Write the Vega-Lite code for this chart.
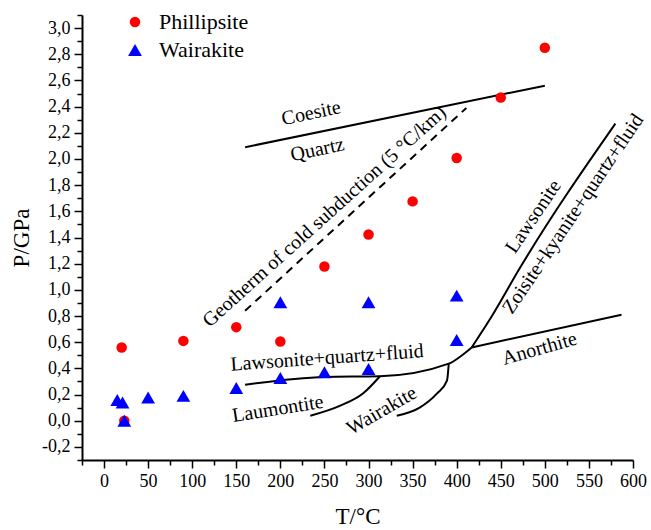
{
  "$schema": "https://vega.github.io/schema/vega-lite/v6.json",
  "width": 551,
  "height": 445,
  "autosize": {"type": "none"},
  "padding": {"left": 82, "top": 15, "right": 18, "bottom": 70},
  "background": "white",
  "config": {
    "font": "Times New Roman, Liberation Serif, serif",
    "view": {"stroke": null},
    "text": {"font": "Times New Roman, Liberation Serif, serif"},
    "legend": {"labelFont": "Times New Roman, Liberation Serif, serif"},
    "axis": {"grid": false, "domainColor": "black", "domainWidth": 2, "tickColor": "black", "tickWidth": 1.5, "labelColor": "black", "titleColor": "black", "labelFont": "Times New Roman, Liberation Serif, serif", "titleFont": "Times New Roman, Liberation Serif, serif", "labelFontSize": 18, "titleFontSize": 23, "titleFontWeight": "normal"}
  },
  "datasets": {
    "points": [
      {"T": 20, "P": 0.56, "mineral": "Phillipsite"},
      {"T": 23, "P": 0.0, "mineral": "Phillipsite"},
      {"T": 90, "P": 0.61, "mineral": "Phillipsite"},
      {"T": 150, "P": 0.715, "mineral": "Phillipsite"},
      {"T": 200, "P": 0.605, "mineral": "Phillipsite"},
      {"T": 250, "P": 1.178, "mineral": "Phillipsite"},
      {"T": 300, "P": 1.423, "mineral": "Phillipsite"},
      {"T": 350, "P": 1.676, "mineral": "Phillipsite"},
      {"T": 400, "P": 2.007, "mineral": "Phillipsite"},
      {"T": 450, "P": 2.47, "mineral": "Phillipsite"},
      {"T": 500, "P": 2.85, "mineral": "Phillipsite"},
      {"T": 15, "P": 0.158, "mineral": "Wairakite"},
      {"T": 21, "P": 0.14, "mineral": "Wairakite"},
      {"T": 23, "P": 0.0, "mineral": "Wairakite"},
      {"T": 50, "P": 0.178, "mineral": "Wairakite"},
      {"T": 90, "P": 0.19, "mineral": "Wairakite"},
      {"T": 150, "P": 0.25, "mineral": "Wairakite"},
      {"T": 200, "P": 0.327, "mineral": "Wairakite"},
      {"T": 200, "P": 0.905, "mineral": "Wairakite"},
      {"T": 250, "P": 0.37, "mineral": "Wairakite"},
      {"T": 300, "P": 0.395, "mineral": "Wairakite"},
      {"T": 300, "P": 0.905, "mineral": "Wairakite"},
      {"T": 400, "P": 0.617, "mineral": "Wairakite"},
      {"T": 400, "P": 0.956, "mineral": "Wairakite"}
    ],
    "lines": [
      {"seg": "coesite", "o": 1, "T": 160, "P": 2.09},
      {"seg": "coesite", "o": 2, "T": 500, "P": 2.56},
      {"seg": "geotherm", "o": 1, "T": 160, "P": 0.84},
      {"seg": "geotherm", "o": 2, "T": 411, "P": 2.39},
      {"seg": "lqf", "o": 1, "T": 160, "P": 0.275},
      {"seg": "lqf", "o": 2, "T": 250, "P": 0.335},
      {"seg": "lqf", "o": 3, "T": 313, "P": 0.34},
      {"seg": "lqf", "o": 4, "T": 391, "P": 0.436},
      {"seg": "lqf", "o": 5, "T": 405, "P": 0.495},
      {"seg": "lqf", "o": 6, "T": 417, "P": 0.56},
      {"seg": "anorthite", "o": 1, "T": 417, "P": 0.56},
      {"seg": "anorthite", "o": 2, "T": 587, "P": 0.81},
      {"seg": "zoisite", "o": 1, "T": 417, "P": 0.56},
      {"seg": "zoisite", "o": 2, "T": 440, "P": 0.8},
      {"seg": "zoisite", "o": 3, "T": 472, "P": 1.17},
      {"seg": "zoisite", "o": 4, "T": 580, "P": 2.27},
      {"seg": "laumontite", "o": 1, "T": 234, "P": 0.038},
      {"seg": "laumontite", "o": 2, "T": 268, "P": 0.115},
      {"seg": "laumontite", "o": 3, "T": 294, "P": 0.21},
      {"seg": "laumontite", "o": 4, "T": 313, "P": 0.34},
      {"seg": "wairakite", "o": 1, "T": 332, "P": 0.038},
      {"seg": "wairakite", "o": 2, "T": 358, "P": 0.1},
      {"seg": "wairakite", "o": 3, "T": 377.5, "P": 0.207},
      {"seg": "wairakite", "o": 4, "T": 389, "P": 0.306},
      {"seg": "wairakite", "o": 5, "T": 391, "P": 0.436}
    ],
    "labels": [
      {"label": "Coesite", "T": 235, "P": 2.35},
      {"label": "Quartz", "T": 242, "P": 2.07},
      {"label": "Geotherm of cold subduction (5 °C/km)", "T": 250, "P": 1.56},
      {"label": "Lawsonite", "T": 487, "P": 1.56},
      {"label": "Zoisite+kyanite+quartz+fluid", "T": 532, "P": 1.58},
      {"label": "Lawsonite+quartz+fluid", "T": 253, "P": 0.48},
      {"label": "Laumontite", "T": 197, "P": 0.09},
      {"label": "Wairakite", "T": 315, "P": 0.077},
      {"label": "Anorthite", "T": 494, "P": 0.55}
    ]
  },
  "encoding": {
    "x": {
      "field": "T", "type": "quantitative",
      "scale": {"domain": [-25, 600], "nice": false, "zero": false},
      "axis": {
        "title": "T/°C", "titlePadding": 15,
        "values": [-25, 0, 25, 50, 75, 100, 125, 150, 175, 200, 225, 250, 275, 300, 325, 350, 375, 400, 425, 450, 475, 500, 525, 550, 575, 600],
        "labelExpr": "datum.value >= 0 && datum.value % 50 === 0 ? datum.label : ''",
        "tickSize": {"condition": {"test": "datum.value % 50 === 0", "value": 8}, "value": 5},
        "labelPadding": 4, "labelFlush": false, "labelOverlap": false
      }
    },
    "y": {
      "field": "P", "type": "quantitative",
      "scale": {"domain": [-0.3, 3.1], "nice": false, "zero": false},
      "axis": {
        "title": "P/GPa", "titlePadding": 8,
        "values": [-0.3, -0.2, -0.1, 0, 0.1, 0.2, 0.3, 0.4, 0.5, 0.6, 0.7, 0.8, 0.9, 1.0, 1.1, 1.2, 1.3, 1.4, 1.5, 1.6, 1.7, 1.8, 1.9, 2.0, 2.1, 2.2, 2.3, 2.4, 2.5, 2.6, 2.7, 2.8, 2.9, 3.0, 3.1],
        "labelExpr": "abs(round(datum.value * 10)) % 2 === 0 ? ((datum.value < -0.01 ? '-' : '') + replace(format(abs(datum.value), '.1f'), '.', ',')) : ''",
        "tickSize": {"condition": {"test": "abs(round(datum.value * 10)) % 2 === 0", "value": 8}, "value": 5},
        "labelPadding": 4, "labelFlush": false, "labelOverlap": false
      }
    }
  },
  "layer": [
    {
      "data": {"name": "lines"},
      "transform": [{"filter": "datum.seg !== 'geotherm'"}],
      "mark": {"type": "line", "color": "black", "strokeWidth": 2, "interpolate": "monotone"},
      "encoding": {"detail": {"field": "seg"}, "order": {"field": "o", "type": "quantitative"}}
    },
    {
      "data": {"name": "lines"},
      "transform": [{"filter": "datum.seg === 'geotherm'"}],
      "mark": {"type": "line", "color": "black", "strokeWidth": 2, "strokeDash": [8, 6]},
      "encoding": {"order": {"field": "o", "type": "quantitative"}}
    },
    {
      "data": {"name": "labels"},
      "transform": [{"filter": "datum.label === 'Coesite' || datum.label === 'Quartz'"}],
      "mark": {"type": "text", "angle": -12, "fontSize": 20, "color": "black", "baseline": "middle", "align": "center"},
      "encoding": {"text": {"field": "label"}}
    },
    {
      "data": {"name": "labels"},
      "transform": [{"filter": "datum.label === 'Geotherm of cold subduction (5 °C/km)'"}],
      "mark": {"type": "text", "angle": -42, "fontSize": 20, "color": "black", "baseline": "middle", "align": "center"},
      "encoding": {"text": {"field": "label"}}
    },
    {
      "data": {"name": "labels"},
      "transform": [{"filter": "datum.label === 'Lawsonite' || datum.label === 'Zoisite+kyanite+quartz+fluid'"}],
      "mark": {"type": "text", "angle": -56, "fontSize": 20, "color": "black", "baseline": "middle", "align": "center"},
      "encoding": {"text": {"field": "label"}}
    },
    {
      "data": {"name": "labels"},
      "transform": [{"filter": "datum.label === 'Lawsonite+quartz+fluid'"}],
      "mark": {"type": "text", "angle": -4, "fontSize": 20, "color": "black", "baseline": "middle", "align": "center"},
      "encoding": {"text": {"field": "label"}}
    },
    {
      "data": {"name": "labels"},
      "transform": [{"filter": "datum.label === 'Laumontite'"}],
      "mark": {"type": "text", "angle": -9, "fontSize": 20, "color": "black", "baseline": "middle", "align": "center"},
      "encoding": {"text": {"field": "label"}}
    },
    {
      "data": {"name": "labels"},
      "transform": [{"filter": "datum.label === 'Wairakite'"}],
      "mark": {"type": "text", "angle": -30, "fontSize": 20, "color": "black", "baseline": "middle", "align": "center"},
      "encoding": {"text": {"field": "label"}}
    },
    {
      "data": {"name": "labels"},
      "transform": [{"filter": "datum.label === 'Anorthite'"}],
      "mark": {"type": "text", "angle": -16, "fontSize": 20, "color": "black", "baseline": "middle", "align": "center"},
      "encoding": {"text": {"field": "label"}}
    },
    {
      "data": {"name": "points"},
      "mark": {"type": "point", "filled": true, "opacity": 1},
      "encoding": {
        "color": {
          "field": "mineral", "type": "nominal",
          "scale": {"domain": ["Phillipsite", "Wairakite"], "range": ["#ff0000", "#0000ff"]},
          "legend": {
            "title": null, "orient": "none", "legendX": 42, "legendY": -4,
            "labelFontSize": 22, "symbolSize": 110, "rowPadding": 6, "labelOffset": 13,
            "symbolStrokeWidth": 0,
            "encode": {"labels": {"update": {"fill": {"signal": "datum.value === 'Phillipsite' ? '#ff0000' : '#0000ff'"}}}}
          }
        },
        "shape": {
          "field": "mineral", "type": "nominal",
          "scale": {"domain": ["Phillipsite", "Wairakite"], "range": ["circle", "triangle-up"]}
        },
        "size": {
          "field": "mineral", "type": "nominal",
          "scale": {"domain": ["Phillipsite", "Wairakite"], "range": [110, 190]},
          "legend": null
        }
      }
    }
  ]
}
